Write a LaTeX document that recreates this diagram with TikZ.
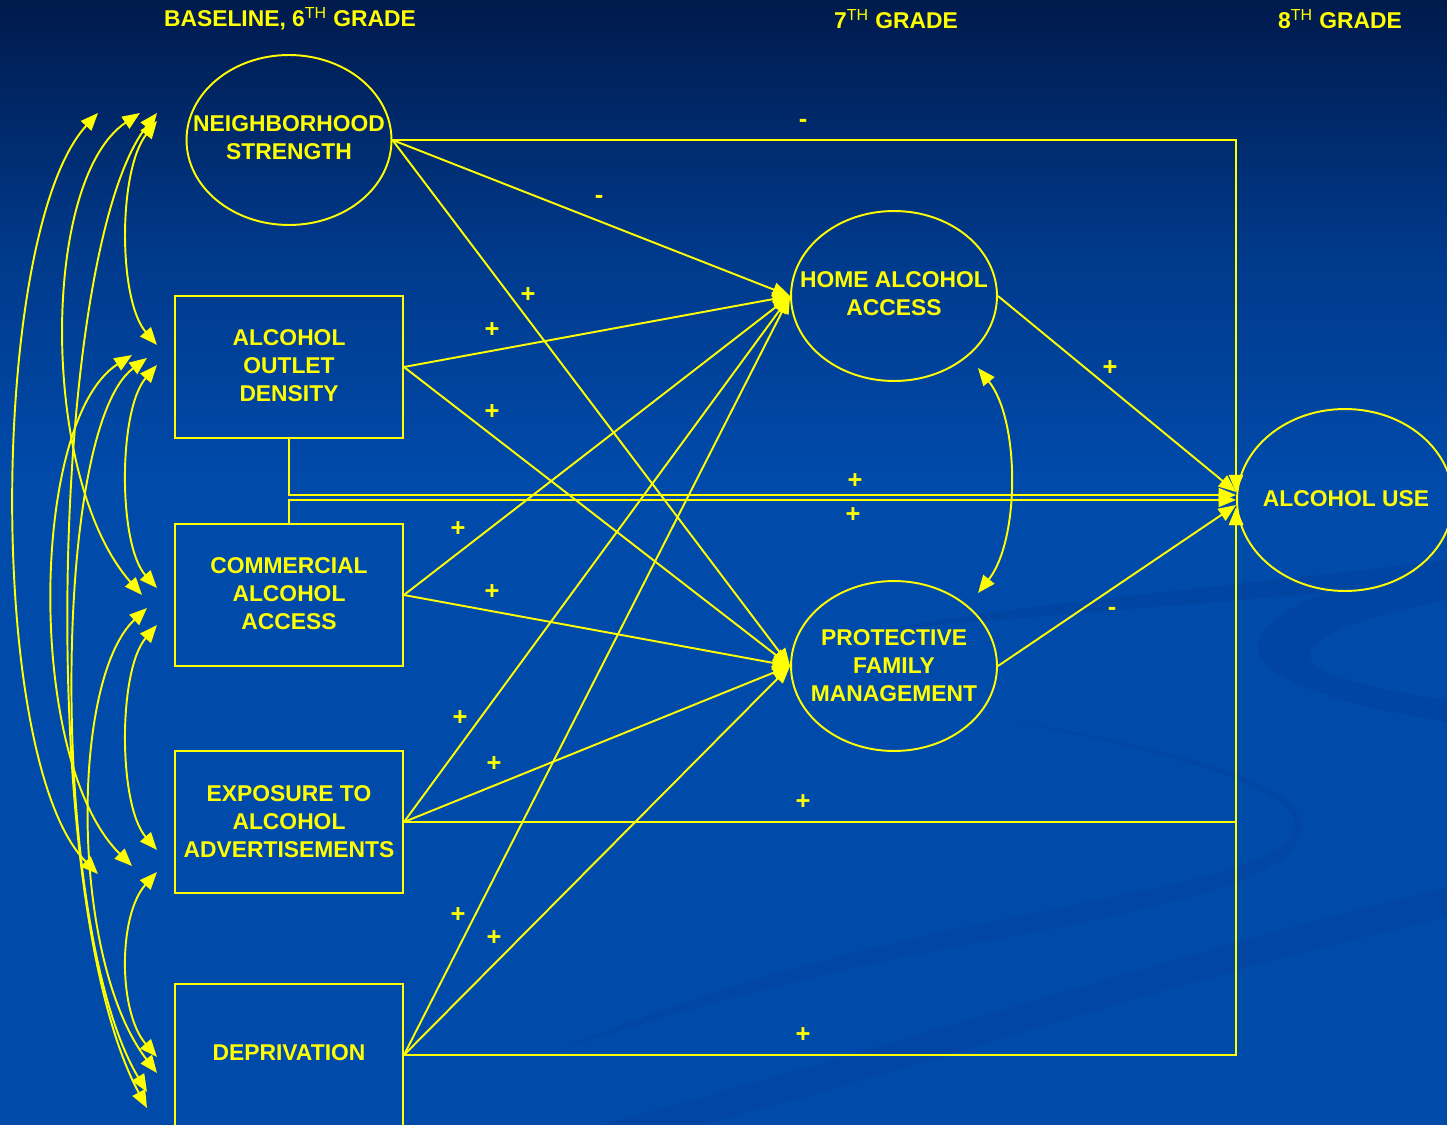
\documentclass[tikz,border=0pt]{standalone}
\usepackage{fontspec}
\setmainfont{Liberation Sans}
\usetikzlibrary{arrows.meta,shapes.geometric,calc}
\definecolor{ylw}{HTML}{FFFF00}
\definecolor{bgtop}{HTML}{001A4C}
\definecolor{bgmid}{HTML}{003A8C}
\definecolor{bgbot}{HTML}{004AAA}
\definecolor{swoosh}{HTML}{00347F}
\begin{document}
\begin{tikzpicture}[x=0.02cm,y=-0.02cm,
  line/.style={draw=ylw,line width=1.1pt},
  arr/.style={line,-{Triangle[length=10pt,width=8pt]}},
  darr/.style={line,{Triangle[length=10pt,width=8pt]}-{Triangle[length=10pt,width=8pt]}},
  box/.style={draw=ylw,line width=1.1pt,minimum width=4.56cm,minimum height=2.84cm,inner sep=0pt},
  ell/.style={draw=ylw,line width=1.1pt,ellipse,minimum width=4.1cm,minimum height=3.4cm,inner sep=0pt},
  txt/.style={text=ylw,font=\fontsize{13}{15.8}\selectfont\bfseries,align=center,inner sep=0pt},
  sign/.style={text=ylw,font=\fontsize{14.5}{15}\selectfont\bfseries,inner sep=0pt},
  hdr/.style={text=ylw,font=\fontsize{13}{15}\selectfont\bfseries,inner sep=0pt}
]
% ---------- background ----------
\useasboundingbox (0,0) rectangle (1447,1125);
\fill[bgbot] (0,0) rectangle (1447,1125);
\shade[top color=bgtop,bottom color=bgmid] (0,0) rectangle (1447,260);
\shade[top color=bgmid,bottom color=bgbot] (0,260) rectangle (1447,480);
% faint decorative swooshes
\fill[swoosh,opacity=0.2] (1447,560) .. controls (1250,585) and (1050,600) .. (880,630)
  .. controls (1050,615) and (1250,600) .. (1330,592)
  .. controls (1260,615) and (1240,650) .. (1275,672)
  .. controls (1320,700) and (1390,712) .. (1447,722) -- (1447,700)
  .. controls (1380,690) and (1315,675) .. (1310,658)
  .. controls (1305,635) and (1380,612) .. (1447,600) -- cycle;
\fill[swoosh,opacity=0.18] (1000,718) .. controls (1150,750) and (1280,780) .. (1295,820)
  .. controls (1305,860) and (1200,880) .. (1000,920)
  .. controls (850,950) and (700,990) .. (560,1050)
  .. controls (720,995) and (900,955) .. (1020,935)
  .. controls (1200,900) and (1320,870) .. (1298,815)
  .. controls (1280,775) and (1150,745) .. cycle;
\fill[swoosh,opacity=0.18] (600,1125) .. controls (850,1060) and (1150,960) .. (1447,887)
  -- (1447,917) .. controls (1150,985) and (900,1075) .. (700,1125) -- cycle;
% ---------- headers ----------
\node[hdr] (h6) at (290,19) {BASELINE, 6\textsuperscript{\mdseries TH} GRADE};
\node[hdr] (h7) at (896,19) {7\textsuperscript{\mdseries TH} GRADE};
\node[hdr] (h8) at (1340,19) {8\textsuperscript{\mdseries TH} GRADE};
% ---------- nodes ----------
\node[ell] (nb) at (289,140) {};
\node[txt] (nbt) at (289,138) {NEIGHBORHOOD\\STRENGTH};
\node[box] (out) at (289,367) {};
\node[txt] (outt) at (289,365.5) {ALCOHOL\\OUTLET\\DENSITY};
\node[box] (com) at (289,595) {};
\node[txt] (comt) at (289,593.5) {COMMERCIAL\\ALCOHOL\\ACCESS};
\node[box] (exp) at (289,822) {};
\node[txt] (expt) at (289,821.5) {EXPOSURE TO\\ALCOHOL\\ADVERTISEMENTS};
\node[box] (dep) at (289,1055) {};
\node[txt] (dept) at (289,1053) {DEPRIVATION};
\node[ell,minimum width=4.12cm] (home) at (894,296) {};
\node[txt] (homet) at (894,294) {HOME ALCOHOL\\ACCESS};
\node[ell,minimum width=4.12cm] (prot) at (894,666) {};
\node[txt] (prott) at (894,665.5) {PROTECTIVE\\FAMILY\\MANAGEMENT};
\node[ell,minimum width=4.32cm,minimum height=3.64cm] (au) at (1345,500) {};
\node[txt] (aut) at (1346,499) {ALCOHOL USE};
% ---------- paths to 7th grade ----------
\draw[arr] (nb.east) -- (home.west);
\draw[arr] (nb.east) -- (prot.west);
\draw[arr] (out.east) -- (home.west);
\draw[arr] (out.east) -- (prot.west);
\draw[arr] (com.east) -- (home.west);
\draw[arr] (com.east) -- (prot.west);
\draw[arr] (exp.east) -- (home.west);
\draw[arr] (exp.east) -- (prot.west);
\draw[arr] (dep.east) -- (home.west);
\draw[arr] (dep.east) -- (prot.west);
% ---------- paths to alcohol use ----------
\draw[arr] (nb.east) -| ([yshift=0.15cm]au.west);
\draw[arr] (out.south) |- ([yshift=0.1cm]au.west);
\draw[arr] (com.north) |- ([yshift=0cm]au.west);
\draw[arr] (exp.east) -| ([yshift=-0.15cm]au.west);
\draw[arr] (dep.east) -| ([yshift=-0.15cm]au.west);
\draw[arr] (home.east) -- ([yshift=0.16cm]au.west);
\draw[arr] (prot.east) -- ([yshift=-0.1cm]au.west);
% home <-> protective
\coordinate (hp1) at (978,368);
\coordinate (hp2) at (978,593);
\draw[darr] (hp1) .. controls (1020,420) and (1020,540) .. (hp2);
% ---------- correlations among baseline variables ----------
\coordinate (nO) at (157,121);  \coordinate (oN) at (157,345);
\coordinate (oC) at (157,365);  \coordinate (cO) at (157,588);
\coordinate (cE) at (157,625);  \coordinate (eC) at (157,850);
\coordinate (eD) at (157,872);  \coordinate (dE) at (157,1057);
\coordinate (nE) at (98,113);   \coordinate (eN) at (98,874);
\coordinate (nC) at (140,113);  \coordinate (cN) at (142,595);
\coordinate (nD) at (157,113);  \coordinate (dN) at (147,1108);
\coordinate (oE) at (132,355);  \coordinate (eO) at (132,866);
\coordinate (oD) at (147,358);  \coordinate (dO) at (147,1092);
\coordinate (cD) at (147,608);  \coordinate (dC) at (157,1073);
\draw[darr] (nO) .. controls (118,170) and (118,300) .. (oN);
\draw[darr] (oC) .. controls (118,410) and (118,545) .. (cO);
\draw[darr] (cE) .. controls (118,670) and (118,805) .. (eC);
\draw[darr] (eD) .. controls (118,915) and (118,1012) .. (dE);
\draw[darr] (nE) .. controls (-10,230) and (-15,760) .. (eN);
\draw[darr] (nC) .. controls (40,180) and (40,480) .. (cN);
\draw[darr] (nD) .. controls (50,250) and (35,900) .. (dN);
\draw[darr] (oE) .. controls (30,420) and (25,760) .. (eO);
\draw[darr] (oD) .. controls (50,430) and (50,930) .. (dO);
\draw[darr] (cD) .. controls (70,680) and (70,960) .. (dC);
% ---------- signs ----------
\node[sign] (s1) at (803,123) {-};
\node[sign] (s2) at (599,199) {-};
\node[sign] (s3) at (528,295) {+};
\node[sign] (s4) at (492,330) {+};
\node[sign] (s5) at (492,412) {+};
\node[sign] (s6) at (855,481) {+};
\node[sign] (s7) at (853,515) {+};
\node[sign] (s8) at (458,529) {+};
\node[sign] (s9) at (492,592) {+};
\node[sign] (s10) at (460,718) {+};
\node[sign] (s11) at (494,764) {+};
\node[sign] (s12) at (803,802) {+};
\node[sign] (s13) at (458,915) {+};
\node[sign] (s14) at (494,938) {+};
\node[sign] (s15) at (803,1035) {+};
\node[sign] (s16) at (1110,368) {+};
\node[sign] (s17) at (1112,611) {-};
\end{tikzpicture}
\end{document}
